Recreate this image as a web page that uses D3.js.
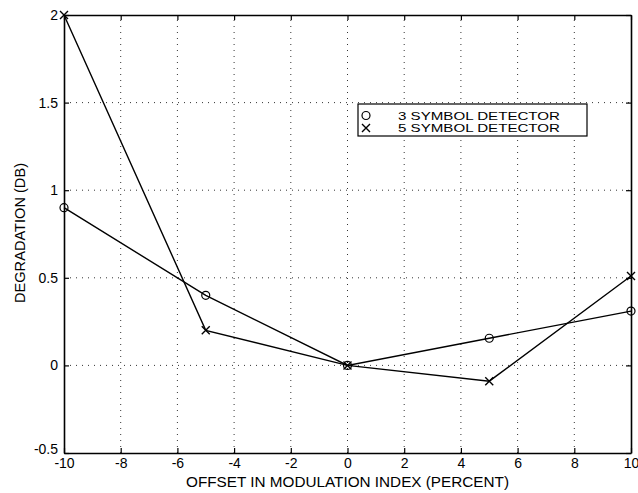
<!DOCTYPE html>
<html>
<head>
<meta charset="utf-8">
<script src="https://cdn.jsdelivr.net/npm/d3@7"></script>
<style>
  body { margin: 0; background: #fff; }
  text { font-family: "Liberation Sans", Arial, sans-serif; fill: #000; }
</style>
</head>
<body>
<div id="main"></div>
<script>
// data
var offsets = [-10, -5, 0, 5, 10];
var sym3 = [0.9, 0.4, 0.0, 0.155, 0.31];
var sym5 = [2.0, 0.2, 0.0, -0.09, 0.51];
var seriesNames = ["3 SYMBOL DETECTOR", "5 SYMBOL DETECTOR"];
var xTicks = [-10, -8, -6, -4, -2, 0, 2, 4, 6, 8, 10];
var yTicks = [-0.5, 0, 0.5, 1, 1.5, 2];

var W = 638, H = 493;
var margin = {top: 15, right: 7, bottom: 40, left: 64};

var svg = d3.select("#main").append("svg")
    .attr("width", W)
    .attr("height", H);

var x = d3.scaleLinear().domain([-10, 10]).range([margin.left, W - margin.right]);
var y = d3.scaleLinear().domain([-0.5, 2]).range([H - margin.bottom, margin.top]);

// plain labels like matlab: "-0.5", "2"
var fmt = function(d) { return String(d); };

// dotted grid
svg.append("g").selectAll("line")
    .data(xTicks.slice(1, -1))
    .enter().append("line")
    .attr("x1", d => x(d)).attr("x2", d => x(d))
    .attr("y1", y(-0.5)).attr("y2", y(2))
    .attr("stroke", "#000").attr("stroke-width", 0.8)
    .attr("stroke-dasharray", "1,5");
svg.append("g").selectAll("line")
    .data(yTicks.slice(1, -1))
    .enter().append("line")
    .attr("y1", d => y(d)).attr("y2", d => y(d))
    .attr("x1", x(-10)).attr("x2", x(10))
    .attr("stroke", "#000").attr("stroke-width", 0.8)
    .attr("stroke-dasharray", "1,5");

// axes, ticks inside (matlab style)
var gx = svg.append("g")
    .attr("transform", "translate(0," + y(-0.5) + ")")
    .call(d3.axisBottom(x).tickValues(xTicks).tickSizeInner(-5).tickSizeOuter(0).tickPadding(5).tickFormat(fmt));
var gx2 = svg.append("g")
    .attr("transform", "translate(0," + y(2) + ")")
    .call(d3.axisTop(x).tickValues(xTicks).tickSizeInner(-5).tickSizeOuter(0).tickFormat(""));
var gy = svg.append("g")
    .attr("transform", "translate(" + x(-10) + ",0)")
    .call(d3.axisLeft(y).tickValues(yTicks).tickSizeInner(-5).tickSizeOuter(0).tickPadding(6).tickFormat(fmt));
var gy2 = svg.append("g")
    .attr("transform", "translate(" + x(10) + ",0)")
    .call(d3.axisRight(y).tickValues(yTicks).tickSizeInner(-5).tickSizeOuter(0).tickFormat(""));

[gx, gx2, gy, gy2].forEach(function(g) {
    g.select(".domain").attr("stroke", "#000").attr("stroke-width", 1.6);
    g.selectAll(".tick line").attr("stroke", "#000").attr("stroke-width", 1.2);
    g.selectAll(".tick text")
        .style("font-family", "'Liberation Sans', Arial, sans-serif")
        .style("font-size", "14px");
});
// keep the corner labels apart
gy.selectAll(".tick text").filter(d => d === -0.5).attr("dy", "0.05em");

// lines
var line = d3.line()
    .x(function(d, i) { return x(offsets[i]); })
    .y(function(d) { return y(d); });

svg.append("path").datum(sym3)
    .attr("d", line).attr("fill", "none")
    .attr("stroke", "#000").attr("stroke-width", 1.4);
svg.append("path").datum(sym5)
    .attr("d", line).attr("fill", "none")
    .attr("stroke", "#000").attr("stroke-width", 1.4);

// markers
function drawCircle(g, cx, cy) {
    g.append("circle").attr("cx", cx).attr("cy", cy).attr("r", 4)
        .attr("fill", "none").attr("stroke", "#000").attr("stroke-width", 1.2);
}
function drawCross(g, cx, cy) {
    var s = 4;
    g.append("path")
        .attr("d", "M" + (cx - s) + "," + (cy - s) + "L" + (cx + s) + "," + (cy + s) +
                   "M" + (cx - s) + "," + (cy + s) + "L" + (cx + s) + "," + (cy - s))
        .attr("stroke", "#000").attr("stroke-width", 1.4);
}
var marks = svg.append("g");
sym3.forEach(function(d, i) { drawCircle(marks, x(offsets[i]), y(d)); });
sym5.forEach(function(d, i) { drawCross(marks, x(offsets[i]), y(d)); });

// legend
var leg = svg.append("g");
leg.append("rect")
    .attr("x", 358).attr("y", 104).attr("width", 229).attr("height", 32)
    .attr("fill", "#fff").attr("stroke", "#000").attr("stroke-width", 1.2);
drawCircle(leg, 366, 115.5);
drawCross(leg, 366, 128);
leg.selectAll("text.lbl")
    .data(seriesNames)
    .enter().append("text")
    .attr("class", "lbl")
    .attr("x", 398)
    .attr("y", function(d, i) { return 119.5 + i * 12.5; })
    .attr("textLength", 162)
    .attr("lengthAdjust", "spacingAndGlyphs")
    .style("font-size", "11px")
    .text(function(d) { return d; });

// axis labels
svg.append("text")
    .attr("x", x(0)).attr("y", 487)
    .attr("text-anchor", "middle")
    .attr("textLength", 323)
    .attr("lengthAdjust", "spacingAndGlyphs")
    .style("font-size", "14px")
    .text("OFFSET IN MODULATION INDEX (PERCENT)");
svg.append("text")
    .attr("transform", "translate(25," + 233 + ") rotate(-90)")
    .attr("text-anchor", "middle")
    .attr("textLength", 140)
    .attr("lengthAdjust", "spacingAndGlyphs")
    .style("font-size", "15px")
    .text("DEGRADATION (DB)");
</script>
</body>
</html>
